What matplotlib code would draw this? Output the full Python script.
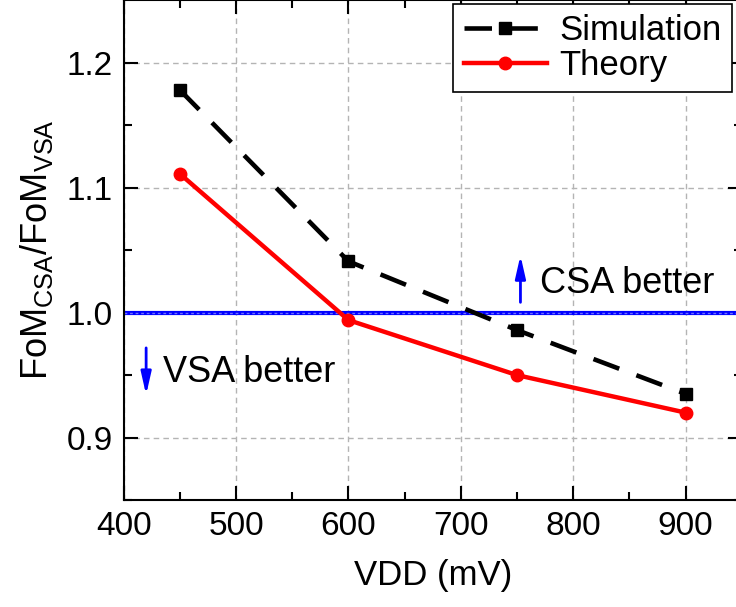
import matplotlib
matplotlib.use("Agg")
import matplotlib.pyplot as plt

# data
vdd = [450, 600, 750, 900]
sim_ratio = [1.178, 1.041, 0.986, 0.935]
theory_ratio = [1.111, 0.994, 0.950, 0.920]

x_ticks = [400, 500, 600, 700, 800, 900]
y_ticks = [0.9, 1.0, 1.1, 1.2]


def main():
    plt.rcParams["font.family"] = ["Liberation Sans", "DejaVu Sans"]
    plt.rcParams["mathtext.fontset"] = "custom"
    plt.rcParams["mathtext.rm"] = "Liberation Sans"

    fig = plt.figure(figsize=(7.36, 6.07), dpi=100)
    ax = fig.add_axes([0.168, 0.176, 0.840, 0.824])

    ax.grid(True, which="major", color="#b4b4b4", linestyle=(0, (4, 3)), linewidth=1.0)
    ax.set_axisbelow(True)

    # break-even line (blue with the grid dots showing through)
    ax.axhline(1.0, color="#0000ff", linewidth=3.0, zorder=2)
    ax.axhline(1.0, color="#6f6fff", linewidth=1.0, linestyle=(0, (2, 2)), zorder=2.1)

    ax.plot(vdd, sim_ratio, color="black", linestyle=(0, (6, 4)), linewidth=3.3,
            marker="s", markersize=8.5, label="Simulation", zorder=3)
    ax.plot(vdd, theory_ratio, color="#ff0000", linestyle="-", linewidth=3.2,
            marker="o", markersize=9, label="Theory", zorder=4)

    # annotations
    arrow = dict(arrowstyle="-|>,head_width=0.17,head_length=0.75",
                 color="#0000ff", lw=2, mutation_scale=18)
    ax.annotate("", xy=(753, 1.048), xytext=(753, 1.006), arrowprops=arrow)
    ax.text(770, 1.023, "CSA better", fontsize=26, va="center", ha="left")
    ax.annotate("", xy=(420, 0.932), xytext=(420, 0.974), arrowprops=arrow)
    ax.text(435, 0.952, "VSA better", fontsize=26, va="center", ha="left")

    ax.set_xlim(400, 950)
    ax.set_ylim(0.85, 1.25)
    ax.set_xticks(x_ticks)
    ax.set_yticks(y_ticks)
    ax.set_xticks([450, 550, 650, 750, 850], minor=True)
    ax.set_yticks([0.85, 0.95, 1.05, 1.15], minor=True)
    ax.set_yticklabels(["%.1f" % v for v in y_ticks])

    ax.tick_params(which="both", direction="in", top=True, right=True, labelsize=24, width=1.5)
    ax.tick_params(which="major", length=10, pad=8)
    ax.tick_params(which="minor", length=6)
    for s in ax.spines.values():
        s.set_linewidth(1.5)

    ax.set_xlabel("VDD (mV)", fontsize=25, labelpad=12)
    ax.set_ylabel(r"$\mathregular{FoM_{CSA}/FoM_{VSA}}$", fontsize=26, labelpad=8)

    leg = ax.legend(loc="upper left", bbox_to_anchor=(0.533, 0.993), fontsize=25,
                    frameon=True, fancybox=False, handlelength=2.4, borderpad=0.3,
                    labelspacing=0.05, handletextpad=0.35, borderaxespad=0)
    leg.get_frame().set_edgecolor("black")
    leg.get_frame().set_linewidth(1.2)
    leg.get_frame().set_alpha(1)

    fig.savefig("out.png", dpi=100)


if __name__ == "__main__":
    main()
